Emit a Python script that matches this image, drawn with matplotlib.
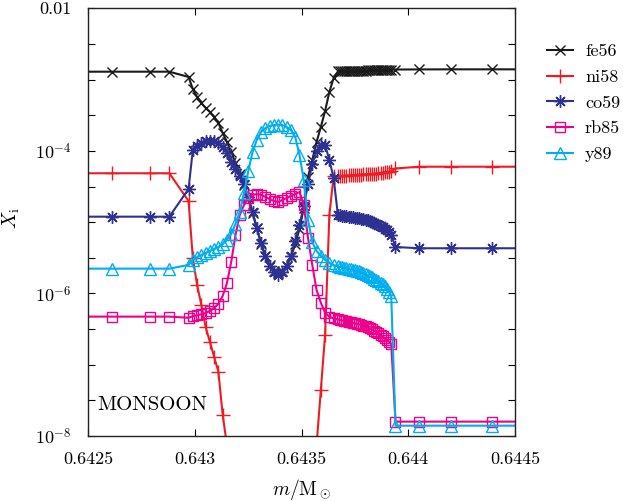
import matplotlib
matplotlib.use("Agg")
import matplotlib.pyplot as plt
import numpy as np

plt.rcParams.update({
    'font.family': 'cmr10',
    'mathtext.fontset': 'cm',
    'axes.unicode_minus': False,
    'axes.formatter.use_mathtext': True,
    'font.size': 13,
})

# mass coordinate (shared grid of the simulation)
m = [0.64243, 0.64261, 0.64279, 0.64288,
     0.64297, 0.64299, 0.64301, 0.64303, 0.64305, 0.64307, 0.64309, 0.64311, 0.64313, 0.64315,
     0.64317, 0.64319, 0.64321, 0.64323, 0.64325, 0.64327, 0.64329, 0.64331, 0.64333, 0.64335,
     0.64337, 0.64339, 0.64341, 0.64343, 0.64345, 0.64347, 0.64349, 0.64351, 0.64353, 0.64355,
     0.64357, 0.64359, 0.64361, 0.64363, 0.64365,
     0.64367, 0.64368, 0.64369, 0.64370, 0.64371, 0.64372, 0.64373, 0.64374, 0.64375, 0.64376,
     0.64377, 0.64378, 0.64379, 0.64380, 0.64381, 0.64382, 0.64383, 0.64384, 0.64385, 0.64386,
     0.64387, 0.64388, 0.64389, 0.64390, 0.64391, 0.64392, 0.64394,
     0.64405, 0.64420, 0.64439, 0.64455]

# log10 of mass fractions
fe56 = [-2.889, -2.889, -2.889, -2.889,
        -2.963, -3.132, -3.244, -3.328, -3.398, -3.454, -3.525, -3.609, -3.749, -3.875,
        -4.015, -4.170, -4.324, -4.478, -4.661, -4.871, -5.082, -5.306, -5.474, -5.601,
        -5.685, -5.713, -5.685, -5.614, -5.488, -5.306, -5.096, -4.801, -4.366, -4.128,
        -3.875, -3.665, -3.440, -3.174, -2.978,
        -2.886, -2.885, -2.884, -2.883, -2.882, -2.881, -2.880, -2.879, -2.878, -2.877,
        -2.876, -2.875, -2.874, -2.873, -2.872, -2.871, -2.870, -2.869, -2.868, -2.867,
        -2.866, -2.865, -2.864, -2.863, -2.862, -2.861, -2.859,
        -2.857, -2.856, -2.856, -2.856]

ni58 = [-4.314, -4.314, -4.314, -4.314,
        -4.703, -5.502, -5.881, -6.161, -6.470, -6.680, -6.891, -7.101, -7.704, -8.13,
        -9.5, -9.5, -9.5, -9.5, -9.5, -9.5, -9.5, -9.5, -9.5, -9.5,
        -9.5, -9.5, -9.5, -9.5, -9.5, -9.5, -9.5, -9.5, -9.5, -9.5,
        -8.13, -7.353, -6.582, -4.899, -4.352,
        -4.352, -4.352, -4.350, -4.348, -4.346, -4.344, -4.342, -4.340, -4.338, -4.336,
        -4.334, -4.332, -4.330, -4.328, -4.326, -4.324, -4.322, -4.320, -4.318, -4.315,
        -4.310, -4.305, -4.300, -4.295, -4.290, -4.282, -4.247,
        -4.222, -4.222, -4.222, -4.222]

co59 = [-4.923, -4.923, -4.923, -4.923,
        -4.534, -3.987, -3.931, -3.889, -3.868, -3.861, -3.868, -3.889, -3.945, -4.029,
        -4.156, -4.254, -4.352, -4.464, -4.647, -4.857, -5.082, -5.292, -5.474, -5.614,
        -5.699, -5.741, -5.699, -5.614, -5.474, -5.264, -5.039, -4.773, -4.464, -4.184,
        -4.001, -3.917, -3.917, -4.128, -4.380,
        -4.899, -4.903, -4.909, -4.913, -4.917, -4.923, -4.927, -4.931, -4.937, -4.941,
        -4.945, -4.951, -4.955, -4.965, -4.976, -4.987, -4.997, -5.011, -5.025, -5.039,
        -5.053, -5.074, -5.095, -5.116, -5.137, -5.180, -5.348,
        -5.366, -5.366, -5.366, -5.366]

rb85 = [-6.325, -6.325, -6.325, -6.325,
        -6.341, -6.320, -6.306, -6.292, -6.274, -6.246, -6.203, -6.147, -6.035, -5.853,
        -5.558, -5.180, -4.899, -4.759, -4.661, -4.619, -4.605, -4.619, -4.647, -4.675,
        -4.703, -4.717, -4.689, -4.661, -4.633, -4.605, -4.576, -4.759, -5.222, -5.601,
        -5.951, -6.131, -6.271, -6.327, -6.351,
        -6.365, -6.372, -6.379, -6.386, -6.393, -6.400, -6.407, -6.414, -6.421, -6.428,
        -6.435, -6.442, -6.456, -6.463, -6.477, -6.491, -6.505, -6.526, -6.540, -6.561,
        -6.582, -6.603, -6.624, -6.652, -6.680, -6.708, -7.798,
        -7.798, -7.798, -7.798, -7.798]

y89 = [-5.652, -5.652, -5.652, -5.652,
       -5.600, -5.530, -5.488, -5.460, -5.432, -5.404, -5.376, -5.348, -5.306, -5.250,
       -5.166, -5.025, -4.857, -4.590, -4.282, -4.015, -3.847, -3.735, -3.679, -3.651,
       -3.637, -3.630, -3.637, -3.665, -3.707, -3.805, -4.058, -4.408, -4.969, -5.278,
       -5.404, -5.474, -5.530, -5.572, -5.600,
       -5.621, -5.628, -5.635, -5.642, -5.649, -5.656, -5.663, -5.670, -5.677, -5.684,
       -5.691, -5.705, -5.719, -5.733, -5.748, -5.762, -5.776, -5.797, -5.811, -5.832,
       -5.853, -5.874, -5.902, -5.937, -5.979, -6.035, -7.855,
       -7.855, -7.855, -7.855, -7.855]

labels = ['fe56', 'ni58', 'co59', 'rb85', 'y89']
series = [fe56, ni58, co59, rb85, y89]
colors = ['#1a1a1a', '#ed1c24', '#2e3192', '#ec008c', '#00aeef']
markers = ['x', '+', (8, 2, 0), 's', '^']
msizes = [7.5, 10, 9, 7, 9]

x_ticks = [0.6425, 0.643, 0.6435, 0.644, 0.6445]
x_ticklabels = ['0.6425', '0.643', '0.6435', '0.644', '0.6445']
y_ticks = [-2, -2.5, -3, -3.5, -4, -4.5, -5, -5.5, -6, -6.5, -7, -7.5, -8]
y_ticklabels = ['0.01', '', '', '', r'$10^{-4}$', '', '', '', r'$10^{-6}$', '', '', '', r'$10^{-8}$']

fig = plt.figure(figsize=(6.23, 5.01), dpi=100)
ax = fig.add_axes([0.1417, 0.1297, 0.6849, 0.8537])

for lab, vals, col, mk, ms in zip(labels, series, colors, markers, msizes):
    ax.plot(m, 10.0 ** np.array(vals), color=col, lw=1.5, marker=mk, ms=ms,
            mew=1.0, mfc='none', mec=col, label=lab)

ax.set_yscale('log')
ax.set_xlim(0.6425, 0.6445)
ax.set_ylim(1e-8, 1e-2)
ax.set_xticks(x_ticks)
ax.set_xticklabels(x_ticklabels)
ax.set_yticks([10.0 ** v for v in y_ticks])
ax.set_yticklabels(y_ticklabels)
ax.yaxis.set_minor_locator(matplotlib.ticker.NullLocator())
ax.tick_params(which='both', direction='in', top=True, right=True, length=5, width=0.8)
ax.tick_params(axis='x', pad=11)
ax.tick_params(axis='y', pad=12)
for sp in ax.spines.values():
    sp.set_linewidth(1.0)
    sp.set_color('#222222')

ax.set_xlabel(r'$m/{\rm M}_\odot$', fontsize=14)
ax.xaxis.set_label_coords(0.5, -0.095)
ax.set_ylabel(r'$X_{\rm i}$', fontsize=14)
ax.yaxis.set_label_coords(-0.155, 0.51)

ax.text(0.021, 0.061, 'MONSOON', transform=ax.transAxes, fontsize=15,
        ha='left', va='baseline')

fig.legend(loc='upper left', bbox_to_anchor=(0.878, 0.913), frameon=False,
           handlelength=1.45, handletextpad=0.65, labelspacing=0.555,
           borderpad=0, borderaxespad=0, fontsize=13)

fig.savefig('out.png', dpi=100)
